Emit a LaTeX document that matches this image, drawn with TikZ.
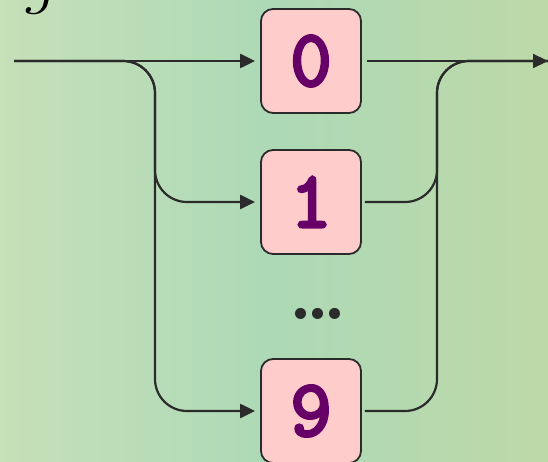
\documentclass[tikz,border=0pt]{standalone}
\usepackage{fontspec}
\newfontfamily\dotfont{Liberation Serif}
\newfontfamily\digitfont[AutoFakeBold=4]{Latin Modern Mono}
\usetikzlibrary{arrows.meta}
\definecolor{boxpink}{HTML}{FFCCCC}
\definecolor{digitpurple}{HTML}{660066}
\definecolor{wirecol}{HTML}{2B2B2B}
\definecolor{bgleft}{HTML}{C6E0B8}
\definecolor{bgmid}{HTML}{ADD9B6}
\definecolor{bgright}{HTML}{BDD9A8}
\tikzset{
  digitbox/.style={draw=wirecol, line width=1.8pt, fill=boxpink, rounded corners=12pt,
    minimum width=100pt, minimum height=104pt, inner sep=0pt, text=digitpurple,
    font=\digitfont\bfseries\fontsize{80}{80}\selectfont},
  flow/.style={draw=wirecol, line width=2.2pt, rounded corners=32pt},
  arrowed/.style={-{Triangle[length=15pt,width=14pt]}}
}
\begin{document}
\begin{tikzpicture}[x=1pt,y=-1pt]
\useasboundingbox (0,0) rectangle (548,462);
\shade[left color=bgleft, right color=bgright, middle color=bgmid] (0,0) rectangle (548,462);
\node[anchor=base, font=\itshape\fontsize{70}{70}\selectfont, inner sep=0pt] (g) at (38,1) {g};
\node[digitbox] (b0) at (311,61) {0};
\node[digitbox] (b1) at (311,202) {1};
\node[digitbox] (b9) at (311,411) {9};
\node[text=wirecol, font=\dotfont\bfseries\fontsize{68}{68}\selectfont, inner sep=0pt, anchor=base] (dots) at (318,318) {...};
\coordinate (in) at (14,61);
\coordinate (out) at (548,61);
\coordinate (splitL) at (155,61);
\coordinate (joinR) at (437,61);
\draw[flow, arrowed, shorten >=5pt] (in) -- (b0.west);
\draw[flow, arrowed, shorten >=5pt] (in) -- (splitL) -- (splitL |- b1.west) -- (b1.west);
\draw[flow, arrowed, shorten >=5pt] (in) -- (splitL) -- (splitL |- b9.west) -- (b9.west);
\draw[flow, arrowed, shorten <=5pt] (b0.east) -- (out);
\draw[flow, shorten <=3pt] (b1.east) -- (joinR |- b1.east) -- (joinR) -- (out);
\draw[flow, shorten <=3pt] (b9.east) -- (joinR |- b9.east) -- (joinR) -- (out);
\end{tikzpicture}
\end{document}
